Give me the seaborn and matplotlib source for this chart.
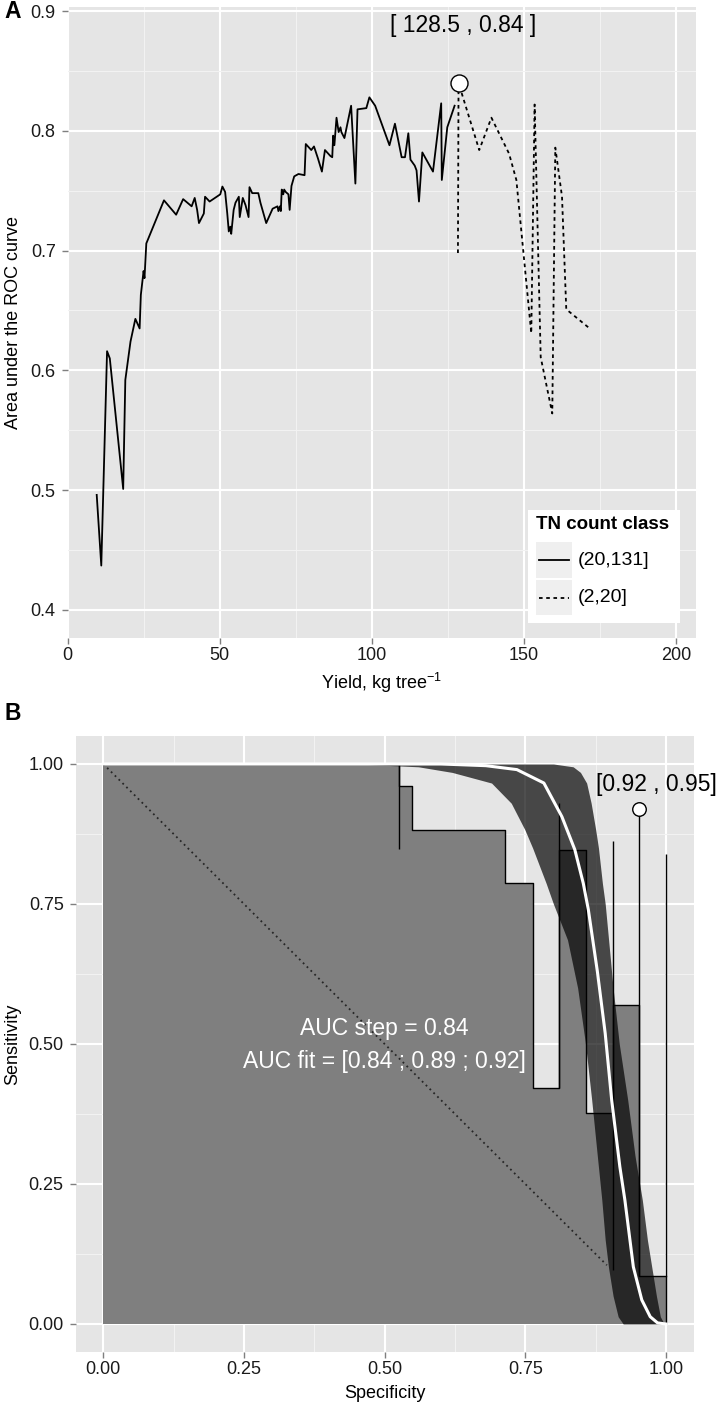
import numpy as np
import pandas as pd
import matplotlib
matplotlib.use("Agg")
import matplotlib.pyplot as plt
import seaborn as sns
from matplotlib.patches import Rectangle
from matplotlib.lines import Line2D

# ---------------- Panel A data ----------------
class_labels = ["(20,131]", "(2,20]"]
solid_yield = [9.6, 11.1, 13.0, 13.9, 18.3, 19.0, 20.7, 22.3, 23.7, 24.1, 25.0, 25.3, 25.9,
               31.7, 35.7, 38.0, 40.8, 41.8, 42.6, 43.2, 44.8, 45.2, 46.7, 50.2, 50.9, 51.8,
               52.5, 53.0, 53.5, 53.8, 54.6, 55.2, 56.3, 56.6, 57.6, 58.5, 59.5, 59.8, 60.7,
               62.7, 63.4, 65.3, 67.4, 69.0, 69.3, 69.8, 70.1, 70.4, 70.9, 71.2, 71.7, 72.6,
               73.0, 73.6, 74.5, 75.9, 77.9, 78.3, 80.1, 81.0, 82.3, 83.6, 84.6, 86.4, 87.0,
               87.3, 87.7, 88.4, 89.1, 89.7, 90.0, 91.0, 93.2, 94.6, 95.3, 98.2, 99.2, 101.1,
               105.8, 107.6, 109.8, 110.9, 112.0, 112.7, 114.1, 114.7, 115.5, 116.6, 120.1,
               122.8, 123.0, 124.8, 127.2]
solid_auc = [0.496, 0.437, 0.616, 0.610, 0.501, 0.592, 0.624, 0.643, 0.635, 0.663, 0.683, 0.677, 0.706,
             0.742, 0.730, 0.743, 0.737, 0.744, 0.734, 0.723, 0.731, 0.745, 0.741, 0.747, 0.7535, 0.749,
             0.731, 0.716, 0.720, 0.714, 0.734, 0.740, 0.745, 0.728, 0.744, 0.738, 0.728, 0.753, 0.748,
             0.748, 0.740, 0.723, 0.735, 0.737, 0.733, 0.737, 0.733, 0.751, 0.747, 0.751, 0.749, 0.747,
             0.734, 0.754, 0.762, 0.764, 0.763, 0.789, 0.784, 0.787, 0.777, 0.766, 0.784, 0.779, 0.778,
             0.796, 0.788, 0.811, 0.799, 0.803, 0.799, 0.794, 0.821, 0.756, 0.818, 0.819, 0.828, 0.821,
             0.788, 0.806, 0.778, 0.778, 0.798, 0.776, 0.771, 0.767, 0.741, 0.782, 0.766,
             0.823, 0.759, 0.803, 0.821]
dashed_yield = [128.3, 128.5, 135.3, 139.3, 145.1, 147.5, 152.4, 153.5, 155.5, 159.3, 160.3,
                162.5, 163.9, 171.6]
dashed_auc = [0.698, 0.840, 0.784, 0.811, 0.781, 0.759, 0.631, 0.822, 0.611, 0.564, 0.786,
              0.745, 0.651, 0.635]
best_a_x, best_a_y = [128.5], [0.84]
best_a_label = "[ 128.5 , 0.84 ]"

# ---------------- Panel B data ----------------
step_spec = [0.0, 0.525, 0.548, 0.714, 0.763, 0.810, 0.858, 0.905, 0.9525, 1.0]
step_sens = [1.0, 0.961, 0.883, 0.787, 0.422, 0.846, 0.377, 0.570, 0.086, 0.086]
seg_spec = [0.525, 0.810, 0.905, 0.9525, 1.0]
seg_low = [0.848, 0.422, 0.096, 0.086, 0.0]
seg_high = [1.0, 0.930, 0.863, 0.919, 0.839]
fit_spec = [0.0, 0.60, 0.68, 0.735, 0.783, 0.815, 0.838, 0.853, 0.862, 0.878, 0.892, 0.9035,
            0.918, 0.927, 0.942, 0.957, 0.972, 0.985, 1.0]
fit_sens = [1.0, 1.0, 0.997, 0.99, 0.966, 0.906, 0.847, 0.787, 0.74, 0.63, 0.519, 0.40,
            0.281, 0.221, 0.102, 0.043, 0.013, 0.002, 0.0]
band_sens = [1.0, 0.995, 0.985, 0.966, 0.93, 0.883, 0.85, 0.787, 0.75, 0.686, 0.6, 0.5,
             0.4, 0.3, 0.221, 0.15, 0.1, 0.05, 0.013, 0.0]
band_spec_low = [0.45, 0.56, 0.62, 0.69, 0.725, 0.749, 0.763, 0.787, 0.80, 0.825, 0.843, 0.857,
                 0.868, 0.878, 0.886, 0.892, 0.898, 0.906, 0.915, 0.924]
band_spec_high = [0.80, 0.835, 0.848, 0.859, 0.867, 0.875, 0.88, 0.887, 0.892, 0.898, 0.906, 0.917,
                  0.932, 0.945, 0.958, 0.967, 0.975, 0.983, 0.99, 0.997]
diag_spec = [0.0, 0.895]
diag_sens = [1.0, 0.105]
best_b_x, best_b_y = [0.9525], [0.919]
best_b_label = "[0.92 , 0.95]"
auc_text = ["AUC step = 0.84", "AUC fit = [0.84 ; 0.89 ; 0.92]"]

# ---------------- figure ----------------
W, H, DPI = 720, 1413, 100
plt.rcParams['font.family'] = ['Liberation Sans', 'DejaVu Sans']
plt.rcParams['mathtext.fontset'] = 'custom'
plt.rcParams['mathtext.rm'] = 'Liberation Sans'
plt.rcParams['mathtext.default'] = 'regular'

fig = plt.figure(figsize=(W / DPI, H / DPI), dpi=DPI)
fig.patch.set_facecolor('white')


def fx(px):
    return px / W


def fy(py):
    return 1 - py / H


def box(l, t, r, b):
    return [fx(l), fy(b), fx(r) - fx(l), fy(t) - fy(b)]


axA = fig.add_axes(box(67.5, 6.7, 695.6, 638))
axB = fig.add_axes(box(75.5, 736, 694, 1352))

TICK_FS = 13
TITLE_FS = 13


def style_axes(ax):
    ax.set_facecolor('#e5e5e5')
    for s in ax.spines.values():
        s.set_visible(False)
    ax.set_axisbelow(True)
    ax.grid(which='major', color='white', lw=1.5)
    ax.grid(which='minor', color='#f2f2f2', lw=0.8)
    ax.tick_params(which='major', length=4.5, width=1, color='#7f7f7f',
                   labelsize=TICK_FS, labelcolor='#1a1a1a')
    ax.tick_params(axis='y', which='major', pad=4)
    ax.tick_params(axis='x', which='major', pad=2)
    ax.tick_params(which='minor', length=0)


# ---- Panel A ----
style_axes(axA)
df_a = pd.DataFrame({
    'yield': solid_yield + dashed_yield,
    'auc': solid_auc + dashed_auc,
    'cls': [class_labels[0]] * len(solid_yield) + [class_labels[1]] * len(dashed_yield),
})
sns.lineplot(data=df_a, x='yield', y='auc', style='cls', units='cls', estimator=None,
             sort=False, dashes={class_labels[0]: '', class_labels[1]: (2, 2)},
             color='black', lw=1.3, legend=False, ax=axA)
sns.scatterplot(x=best_a_x, y=best_a_y, s=150, color='white', edgecolor='black',
                linewidth=1, zorder=5, ax=axA)
axA.text(best_a_x[0] + 1.5, 0.888, best_a_label, ha='center', va='center', fontsize=16.5)
axA.set_xlim(0, 206.4)
axA.set_ylim(0.3765, 0.9037)
axA.set_xticks([0, 50, 100, 150, 200])
axA.set_xticklabels(['0', '50', '100', '150', '200'])
axA.set_xticks([25, 75, 125, 175], minor=True)
axA.set_yticks([0.4, 0.5, 0.6, 0.7, 0.8, 0.9])
axA.set_yticklabels(['0.4', '0.5', '0.6', '0.7', '0.8', '0.9'])
axA.set_yticks([0.45, 0.55, 0.65, 0.75, 0.85], minor=True)
axA.set_xlabel('Yield, kg tree$^{-1}$', fontsize=TITLE_FS)
axA.set_ylabel('Area under the ROC curve', fontsize=TITLE_FS)
axA.xaxis.set_label_coords(0.5, -0.052)
axA.yaxis.set_label_coords(-0.073, 0.5)

# legend (drawn in figure pixel coordinates)
fig.add_artist(Rectangle((fx(528.3), fy(622.7)), fx(680) - fx(528.3), fy(510) - fy(622.7),
                         transform=fig.transFigure, facecolor='white', edgecolor='none'))
fig.text(fx(536), fy(525), 'TN count class', fontsize=13.5, fontweight='bold',
         ha='left', va='center')
for i, (lab, ls) in enumerate(zip(class_labels, ['-', (0, (2, 2))])):
    top = 542.3 + i * 37.7
    fig.add_artist(Rectangle((fx(536), fy(top + 35.4)), fx(571.7) - fx(536), fy(top) - fy(top + 35.4),
                             transform=fig.transFigure, facecolor='#efefef', edgecolor='none'))
    yc = top + 17.7
    fig.add_artist(Line2D([fx(539), fx(569)], [fy(yc), fy(yc)], transform=fig.transFigure,
                          color='black', lw=1.3, linestyle=ls))
    fig.text(fx(577.5), fy(yc), lab, fontsize=14, ha='left', va='center')

# ---- Panel B ----
style_axes(axB)
axB.fill_between(step_spec, step_sens, 0, step='post', color='#7f7f7f', lw=0, zorder=2)
axB.step(step_spec, step_sens, where='post', color='black', lw=1.0, zorder=3)
axB.vlines(seg_spec, seg_low, seg_high, color='black', lw=1.0, zorder=3)
sns.lineplot(x=diag_spec, y=diag_sens, color='#262626', lw=1.3, linestyle=(0, (1.0, 2.0)),
             sort=False, estimator=None, ax=axB, zorder=4)
axB.fill_betweenx(band_sens, band_spec_low, band_spec_high, color='black', alpha=0.69,
                  lw=0, zorder=5)
sns.lineplot(x=fit_spec, y=fit_sens, color='white', lw=2.2, sort=False, estimator=None,
             ax=axB, zorder=6)
sns.scatterplot(x=best_b_x, y=best_b_y, s=95, color='white', edgecolor='black',
                linewidth=1, zorder=7, ax=axB)
axB.text(0.983, 0.963, best_b_label, ha='center', va='center', fontsize=16.5,
         clip_on=False, zorder=8)
axB.text(0.5, 0.527, auc_text[0], color='white', ha='center', va='center', fontsize=16.5, zorder=8)
axB.text(0.5, 0.468, auc_text[1], color='white', ha='center', va='center', fontsize=16.5, zorder=8)
axB.set_xlim(-0.0494, 1.0498)
axB.set_ylim(-0.05, 1.05)
ticks = [0, 0.25, 0.5, 0.75, 1.0]
tlabels = ['0.00', '0.25', '0.50', '0.75', '1.00']
axB.set_xticks(ticks)
axB.set_xticklabels(tlabels)
axB.set_yticks(ticks)
axB.set_yticklabels(tlabels)
axB.set_xticks([0.125, 0.375, 0.625, 0.875], minor=True)
axB.set_yticks([0.125, 0.375, 0.625, 0.875], minor=True)
axB.set_xlabel('Specificity', fontsize=TITLE_FS)
axB.set_ylabel('Sensitivity', fontsize=TITLE_FS)
axB.xaxis.set_label_coords(0.5, -0.053)
axB.yaxis.set_label_coords(-0.087, 0.5)

fig.text(fx(12.5), fy(11.5), 'A', fontsize=16.5, fontweight='bold', ha='center', va='center')
fig.text(fx(12.5), fy(714), 'B', fontsize=16.5, fontweight='bold', ha='center', va='center')

fig.savefig('out.png', dpi=DPI, facecolor='white')
